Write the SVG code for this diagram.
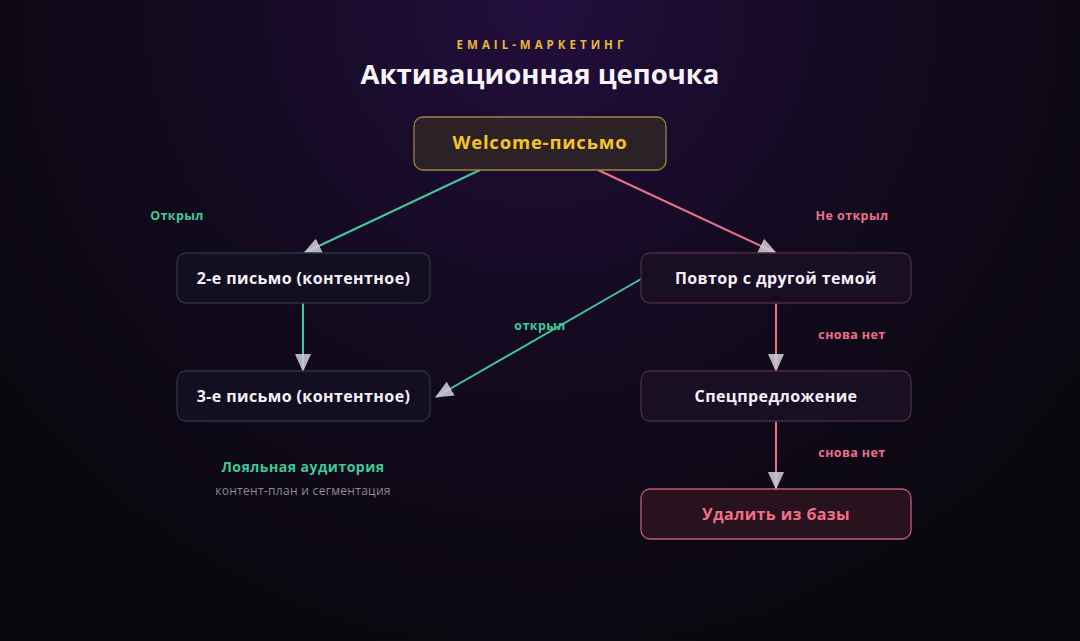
<svg xmlns="http://www.w3.org/2000/svg" width="1080" height="641" viewBox="0 0 1080 641">
<defs>
<radialGradient id="bg" cx="540" cy="0" r="700" gradientUnits="userSpaceOnUse">
<stop offset="0" stop-color="#230e3e"/>
<stop offset="0.45" stop-color="#140a22"/>
<stop offset="1" stop-color="#09070d"/>
</radialGradient>
<marker id="ah" viewBox="0 0 18 16" refX="17" refY="8" markerWidth="18" markerHeight="16" markerUnits="userSpaceOnUse" orient="auto">
<path d="M0,0 L18,8 L0,16 z" fill="#cfcbd6" fill-opacity="0.88"/>
</marker>
<style>
text{font-family:"Open Sans","Noto Sans","Liberation Sans",sans-serif;font-weight:700;text-anchor:middle}
.node rect{stroke-width:1.3}
.cool rect{fill:#140e22;stroke:#283640}
.warm rect{fill:#190f25;stroke:#4d2a42}
.ntxt{fill:#f4f2f8;font-size:16px;letter-spacing:0.4px}
.lg{fill:#3ec99a;font-size:12.5px;letter-spacing:0.4px}
.lp{fill:#ef6f88;font-size:12.5px;letter-spacing:0.4px}
.cg{stroke:#3ec99a;stroke-width:2;fill:none;marker-end:url(#ah)}
.cp{stroke:#ef6f88;stroke-width:2;fill:none;marker-end:url(#ah)}
.sub{font-weight:400;fill:#8e8a96;font-size:12px;letter-spacing:0.3px}
</style>
</defs>
<rect width="1080" height="641" fill="url(#bg)"/>
<text x="542" y="49" fill="#e8b930" font-size="11.5" letter-spacing="4">EMAIL-МАРКЕТИНГ</text>
<text x="540" y="84" fill="#f6f4fa" font-size="27.5">Активационная цепочка</text>

<g id="connectors">
<line class="cg" x1="480" y1="170" x2="304" y2="253"/>
<line class="cp" x1="598" y1="170" x2="776" y2="253"/>
<line class="cg" x1="303" y1="303" x2="303" y2="371"/>
<line class="cg" x1="641" y1="279" x2="436" y2="397"/>
<line class="cp" x1="776" y1="303" x2="776" y2="371"/>
<line class="cp" x1="776" y1="421" x2="776" y2="489"/>
<text class="lg" x="177" y="220">Открыл</text>
<text class="lp" x="852" y="220">Не открыл</text>
<text class="lg" x="540" y="330">открыл</text>
<text class="lp" x="852" y="339">снова нет</text>
<text class="lp" x="852" y="457">снова нет</text>
</g>

<g id="welcome" class="node">
<rect x="414" y="117" width="252" height="53" rx="9" fill="#2c2126" stroke="#a4813f"/>
<text x="540" y="149" fill="#f6c523" font-size="18.5" letter-spacing="0.8">Welcome-письмо</text>
</g>
<g id="letter2" class="node cool">
<rect x="177" y="253" width="253" height="50" rx="9"/>
<text class="ntxt" x="303.5" y="284">2-е письмо (контентное)</text>
</g>
<g id="repeat" class="node warm">
<rect x="641" y="253" width="270" height="50" rx="9"/>
<text class="ntxt" x="776" y="284">Повтор с другой темой</text>
</g>
<g id="letter3" class="node cool">
<rect x="177" y="371" width="253" height="50" rx="9"/>
<text class="ntxt" x="303.5" y="402">3-е письмо (контентное)</text>
</g>
<g id="special" class="node warm">
<rect x="641" y="371" width="270" height="50" rx="9"/>
<text class="ntxt" x="776" y="402">Спецпредложение</text>
</g>
<g id="delete" class="node">
<rect x="641" y="489" width="270" height="50" rx="9" fill="#28121d" stroke="#c45c74"/>
<text x="776" y="520" fill="#f07088" font-size="16" letter-spacing="0.4">Удалить из базы</text>
</g>
<g id="loyal">
<text x="303" y="472" fill="#3ec99a" font-size="14" letter-spacing="0.5">Лояльная аудитория</text>
<text class="sub" x="303" y="495">контент-план и сегментация</text>
</g>
</svg>
